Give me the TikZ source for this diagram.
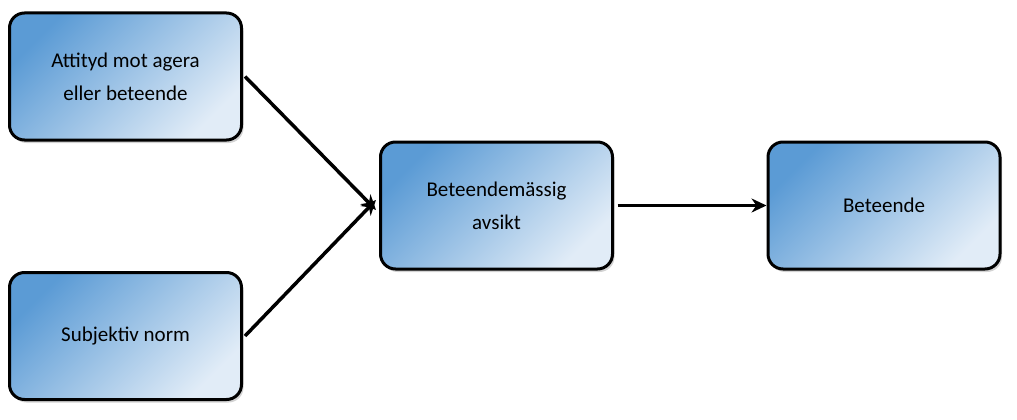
\documentclass[tikz,border=0pt]{standalone}
\usepackage{fontspec}
\setmainfont{Carlito}
\usetikzlibrary{shadows,arrows.meta}
\definecolor{boxdark}{RGB}{91,155,213}
\definecolor{boxlight}{RGB}{225,236,247}
\begin{document}
\begin{tikzpicture}[x=1pt,y=-1pt,
   box/.style={draw=black,line width=3pt,rounded corners=15pt,minimum width=232pt,
     minimum height=127pt,align=center,top color=boxdark,
     bottom color=boxlight,shading angle=45,
     drop shadow={shadow xshift=2pt,shadow yshift=-3pt,opacity=0.35},
     font=\fontsize{21}{33}\selectfont},
   conn/.style={line width=3.5pt,-{Stealth[length=15pt,width=14pt]}}]
 \useasboundingbox (0,0) rectangle (1017,420);
 \node[box] (att) at (125.5,76.5) {Attityd mot agera\\eller beteende};
 \node[box] (norm) at (125.5,336) {Subjektiv norm};
 \node[box] (avs) at (496.5,205.5) {Beteendemässig\\avsikt};
 \node[box] (bet) at (884,205.5) {Beteende};
 \coordinate (in) at (376,205);
 \draw[conn] (att.east) ++(2,0) -- ([yshift=-5pt]in);
 \draw[conn] (norm.east) ++(2,0) -- ([yshift=5pt]in);
 \draw[conn] (avs) ++(121,0) -- (bet.west);
\end{tikzpicture}
\end{document}
